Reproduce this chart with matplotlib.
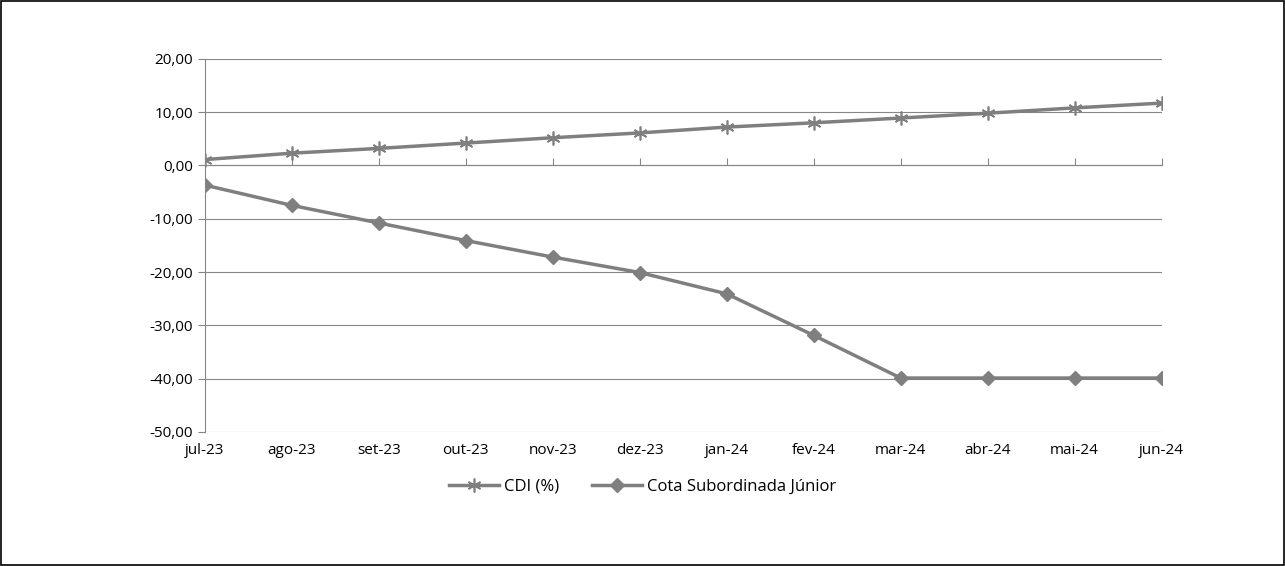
import matplotlib
matplotlib.use("Agg")
import matplotlib.pyplot as plt

months = ["jul-23","ago-23","set-23","out-23","nov-23","dez-23","jan-24","fev-24","mar-24","abr-24","mai-24","jun-24"]
cdi = [1.1, 2.3, 3.2, 4.2, 5.2, 6.1, 7.2, 8.0, 8.9, 9.8, 10.8, 11.7]
cota = [-3.7, -7.5, -10.8, -14.1, -17.2, -20.1, -24.1, -31.9, -39.9, -39.9, -39.9, -39.9]
yticks = [20, 10, 0, -10, -20, -30, -40, -50]

plt.rcParams['font.family'] = ['Open Sans', 'DejaVu Sans']
fig = plt.figure(figsize=(12.85, 5.66), dpi=100)
fig.patches.append(plt.Rectangle((0.001, 0.002), 0.998, 0.996, transform=fig.transFigure,
                                 fill=False, edgecolor='black', linewidth=1.2))
ax = fig.add_axes([0.1595, 0.237, 0.7445, 0.659])
x = list(range(len(months)))
col = '#7f7f7f'
ax.plot(x, cdi, color=col, lw=2.5, marker=(6, 2, 0), ms=10, mew=1.2, mec=col, label='CDI (%)')
ax.plot(x, cota, color=col, lw=2.5, marker='D', ms=7, label='Cota Subordinada Júnior')
ax.set_xlim(0, len(months) - 1)
ax.set_ylim(-50, 20)
ax.set_yticks(yticks)
ax.set_yticklabels([f"{v:,.2f}".replace('.', ',') if v != 0 else "0,00" for v in yticks] if False else
                   [("%.2f" % v).replace('.', ',') for v in yticks], fontsize=11)
ax.yaxis.grid(True, color='#868686', lw=0.8)
ax.set_axisbelow(True)
for s in ['top', 'right', 'bottom']:
    ax.spines[s].set_visible(False)
ax.spines['left'].set_color('#868686')
ax.tick_params(axis='y', length=5, color='#868686')
ax.set_xticks(x)
ax.set_xticklabels(months, fontsize=11)
ax.tick_params(axis='x', length=0, pad=8)
sec = ax.secondary_xaxis(50 / 70)
sec.set_xticks(x)
sec.set_xticklabels([])
sec.tick_params(axis='x', direction='out', length=5, color='#868686')
sec.spines['bottom'].set_color('#868686')
sec.spines['top'].set_color('#868686')
fig.legend(loc='center', bbox_to_anchor=(0.5, 0.14), ncol=2, frameon=False, fontsize=12,
           handlelength=3, columnspacing=2.0, handletextpad=0.3)
fig.savefig('out.png', dpi=100)
